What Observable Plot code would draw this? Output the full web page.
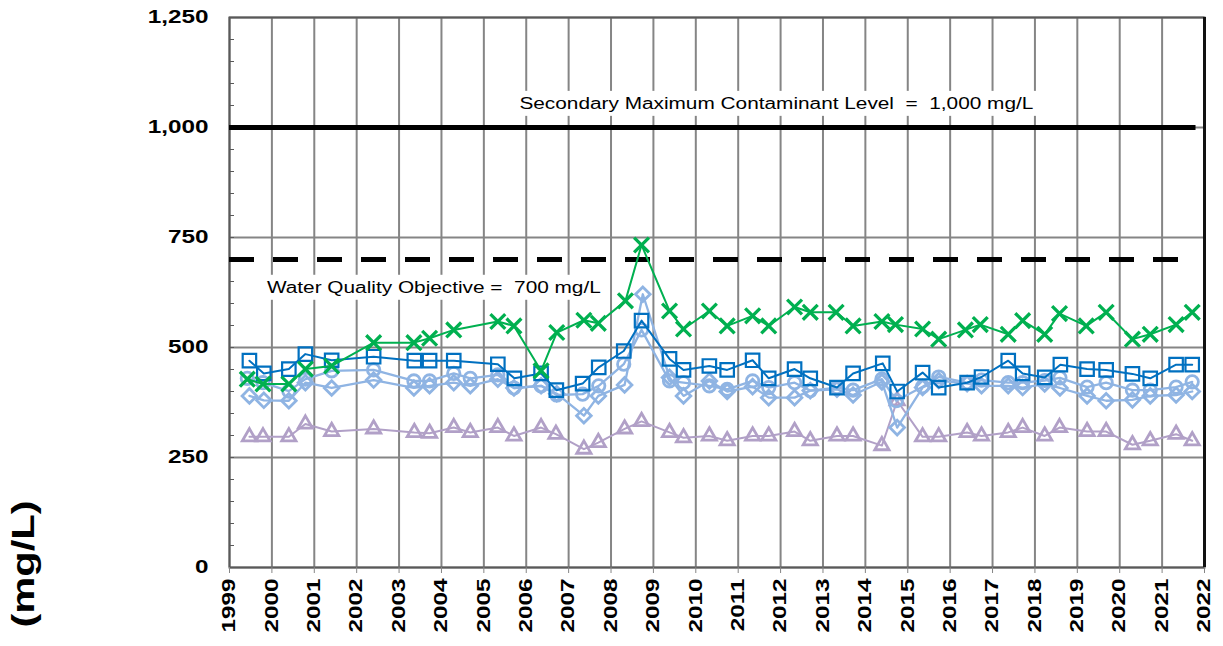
<!DOCTYPE html>
<html>
<head>
<meta charset="utf-8">
<script src="https://cdn.jsdelivr.net/npm/d3@7"></script>
<script src="https://cdn.jsdelivr.net/npm/@observablehq/plot@0.6"></script>
<style>
  html, body { margin: 0; padding: 0; background: #ffffff; }
  #chart svg { display: block; }
</style>
</head>
<body>
<div id="chart"></div>
<script>
// ---------- data ----------
const xDomain = [1999, 2022];
const yearTicks = d3.range(1999, 2023);
const yTicks = [0, 250, 500, 750, 1000, 1250];
const yMinorTicks = d3.range(0, 1251, 50);
const yTitle = "(mg/L)";

// regulatory limits
const limitValues = [1000, 700];
const limitStart = [1999, 1999];
const limitEnd = [2021.8, 2021.8];
const limitDash = [null, "25 19"];
const limitLabels = ["Secondary Maximum Contaminant Level  =  1,000 mg/L", "Water Quality Objective =  700 mg/L"];
const limitLabelX = [2011.9, 2003.82];
const limitLabelY = [1054, 636];

// series 1: green X
const s1Dates = [1999.42, 1999.79, 2000.40, 2000.79, 2001.41, 2002.40, 2003.35, 2003.72, 2004.29, 2005.33, 2005.71, 2006.35, 2006.72, 2007.36, 2007.70, 2008.34, 2008.72, 2009.38, 2009.71, 2010.32, 2010.74, 2011.34, 2011.72, 2012.33, 2012.70, 2013.31, 2013.71, 2014.39, 2014.71, 2015.35, 2015.73, 2016.36, 2016.71, 2017.37, 2017.71, 2018.23, 2018.58, 2019.21, 2019.68, 2020.30, 2020.72, 2021.33, 2021.71];
const s1Values = [428, 417, 417, 451, 458, 511, 511, 521, 540, 559, 549, 447, 534, 562, 555, 606, 733, 583, 542, 583, 549, 572, 549, 592, 580, 580, 549, 559, 552, 542, 519, 540, 552, 530, 561, 530, 577, 549, 580, 519, 530, 552, 580];

// series 2: dark blue squares
const s2Dates = [1999.47, 1999.81, 2000.40, 2000.79, 2001.41, 2002.40, 2003.36, 2003.72, 2004.29, 2005.33, 2005.72, 2006.35, 2006.71, 2007.33, 2007.71, 2008.30, 2008.72, 2009.38, 2009.71, 2010.32, 2010.74, 2011.34, 2011.72, 2012.33, 2012.70, 2013.33, 2013.71, 2014.41, 2014.75, 2015.35, 2015.73, 2016.40, 2016.74, 2017.37, 2017.71, 2018.23, 2018.60, 2019.23, 2019.68, 2020.30, 2020.72, 2021.33, 2021.71];
const s2Values = [470, 441, 451, 485, 471, 479, 470, 470, 470, 462, 430, 441, 403, 418, 455, 492, 561, 474, 449, 458, 449, 471, 430, 451, 430, 409, 441, 464, 400, 443, 409, 420, 433, 470, 441, 432, 461, 451, 449, 440, 430, 461, 461];

// series 3: light blue circles
const s3Dates = [1999.42, 1999.79, 2000.40, 2000.79, 2001.41, 2002.40, 2003.35, 2003.72, 2004.29, 2004.68, 2005.33, 2005.71, 2006.35, 2006.72, 2007.33, 2007.71, 2008.30, 2008.72, 2009.38, 2009.71, 2010.32, 2010.74, 2011.34, 2011.72, 2012.33, 2012.70, 2013.33, 2013.71, 2014.39, 2014.73, 2015.35, 2015.73, 2016.40, 2016.74, 2017.37, 2017.71, 2018.23, 2018.59, 2019.23, 2019.68, 2020.30, 2020.72, 2021.33, 2021.71];
const s3Values = [430, 420, 401, 428, 447, 449, 424, 424, 441, 430, 438, 408, 413, 392, 394, 413, 462, 540, 424, 420, 413, 405, 424, 409, 420, 402, 409, 403, 428, 379, 411, 433, 420, 426, 420, 420, 425, 431, 410, 420, 403, 403, 410, 422];

// series 4: light blue diamonds
const s4Dates = [1999.47, 1999.81, 2000.40, 2000.79, 2001.41, 2002.40, 2003.35, 2003.72, 2004.29, 2004.68, 2005.33, 2005.71, 2006.35, 2006.72, 2007.36, 2007.70, 2008.32, 2008.75, 2009.38, 2009.71, 2010.32, 2010.74, 2011.34, 2011.72, 2012.33, 2012.70, 2013.33, 2013.71, 2014.39, 2014.75, 2015.35, 2015.73, 2016.40, 2016.74, 2017.37, 2017.71, 2018.23, 2018.59, 2019.23, 2019.68, 2020.30, 2020.72, 2021.33, 2021.71];
const s4Values = [390, 380, 379, 420, 408, 426, 408, 413, 420, 413, 428, 408, 413, 395, 345, 390, 415, 621, 432, 390, 424, 400, 411, 386, 386, 402, 405, 392, 422, 318, 409, 425, 418, 413, 413, 409, 417, 408, 390, 379, 381, 390, 392, 400];

// series 5: purple triangles
const s5Dates = [1999.47, 1999.79, 2000.40, 2000.79, 2001.41, 2002.40, 2003.36, 2003.72, 2004.29, 2004.68, 2005.33, 2005.71, 2006.35, 2006.70, 2007.36, 2007.70, 2008.32, 2008.72, 2009.38, 2009.71, 2010.32, 2010.74, 2011.34, 2011.72, 2012.33, 2012.70, 2013.33, 2013.71, 2014.39, 2014.75, 2015.35, 2015.73, 2016.40, 2016.74, 2017.37, 2017.71, 2018.23, 2018.58, 2019.23, 2019.68, 2020.30, 2020.72, 2021.33, 2021.71];
const s5Values = [297, 297, 297, 326, 309, 315, 307, 305, 318, 307, 318, 299, 318, 303, 269, 284, 315, 332, 307, 295, 299, 288, 299, 299, 309, 288, 299, 299, 277, 379, 297, 297, 307, 299, 307, 318, 299, 318, 309, 309, 279, 288, 303, 288];

// ---------- build tables ----------
const toRows = (dates, values) => dates.map((d, i) => ({date: d, value: values[i]}));
const seriesDefs = [
  {rows: toRows(s5Dates, s5Values), color: "#b1a0c7", symbol: "triangle2", r: 6.8, lineWidth: 2, markWidth: 2.8},
  {rows: toRows(s4Dates, s4Values), color: "#8fb4e3", symbol: "diamond2", r: 6.6, lineWidth: 2.3, markWidth: 2.8},
  {rows: toRows(s3Dates, s3Values), color: "#8fb4e3", symbol: "circle", r: 6.2, lineWidth: 2.3, markWidth: 2.8},
  {rows: toRows(s2Dates, s2Values), color: "#0070c0", symbol: "square", r: 7.6, lineWidth: 2, markWidth: 2.2},
  {rows: toRows(s1Dates, s1Values), color: "#00b050", symbol: "times", r: 6.8, lineWidth: 2, markWidth: 3.3}
];
const limits = limitValues.map((v, i) => ({value: v, x1: limitStart[i], x2: limitEnd[i], dash: limitDash[i]}));
const limitText = limitLabels.map((t, i) => ({text: t, x: limitLabelX[i], y: limitLabelY[i]}));

const FONT = "'Liberation Sans', Arial, sans-serif";

const marks = [
  Plot.gridX(yearTicks, {stroke: "#858585", strokeOpacity: 1, strokeWidth: 2}),
  Plot.gridY(yTicks, {stroke: "#858585", strokeOpacity: 1, strokeWidth: 2}),
  Plot.frame({stroke: "#595959", strokeWidth: 2}),
  Plot.ruleX([xDomain[1]], {stroke: "#111", strokeWidth: 3}),
  Plot.axisY({ticks: yMinorTicks, tickSize: -5, tickFormat: () => "", label: null, stroke: "#595959"}),
  Plot.axisY({ticks: yTicks, tickSize: 0, tickPadding: 21, tickFormat: d3.format(","), label: null,
              fontSize: 18, fontWeight: "bold", fill: "#000"}),
  Plot.axisX({ticks: yearTicks, tickFormat: d => String(d), tickSize: 6, tickPadding: 5, tickRotate: -90, label: null,
              fontSize: 18, fontWeight: "bold", fill: "#000", stroke: "#858585"}),
  Plot.ruleY(limits.filter(d => !d.dash), {y: "value", x1: "x1", x2: "x2", stroke: "#000", strokeWidth: 5}),
  Plot.ruleY(limits.filter(d => d.dash), {y: "value", x1: "x1", x2: "x2", stroke: "#000", strokeWidth: 5, strokeDasharray: "25 19"}),
  Plot.text(limitText, {x: "x", y: "y", text: "text", fontSize: 16, fontWeight: "normal", fill: "#000", fontFamily: FONT}),
  Plot.text([yTitle], {frameAnchor: "left", dx: -206, dy: 208, rotate: -90, textAnchor: "end",
                       fontSize: 32, fontWeight: "bold", fill: "#000", fontFamily: FONT})
];
for (const s of seriesDefs) {
  marks.push(Plot.line(s.rows, {x: "date", y: "value", stroke: s.color, strokeWidth: s.lineWidth}));
  marks.push(Plot.dot(s.rows, {x: "date", y: "value", symbol: s.symbol, r: s.r, stroke: s.color, fill: "none", strokeWidth: s.markWidth}));
}

const chart = Plot.plot({
  width: 1223,
  height: 646,
  marginTop: 17,
  marginBottom: 79,
  marginLeft: 229,
  marginRight: 19,
  style: {fontFamily: FONT, background: "#fff", overflow: "visible"},
  x: {domain: xDomain, axis: null},
  y: {domain: [0, 1250], axis: null},
  marks
});
document.getElementById("chart").append(chart);

// stretch tick labels / text along reading direction (the reference font is wide)
function stretch(nodes, factor) {
  nodes.forEach(t => {
    const len = t.getComputedTextLength();
    if (len > 0) {
      t.setAttribute("textLength", (len * factor).toFixed(1));
      t.setAttribute("lengthAdjust", "spacingAndGlyphs");
    }
  });
}
const tickTexts = chart.querySelectorAll("g[aria-label$='tick label'] text");
stretch(tickTexts, 1.35);
const allText = Array.from(chart.querySelectorAll("g[aria-label='text'] text"));
stretch(allText, 1.3);

// white box behind limit labels
allText.forEach(t => {
  if (!limitLabels.includes(t.textContent)) return;
  const b = t.getBBox();
  const rect = document.createElementNS("http://www.w3.org/2000/svg", "rect");
  rect.setAttribute("x", b.x - 8);
  rect.setAttribute("y", b.y - 4);
  rect.setAttribute("width", b.width + 16);
  rect.setAttribute("height", b.height + 8);
  rect.setAttribute("fill", "#fff");
  if (t.getAttribute("transform")) rect.setAttribute("transform", t.getAttribute("transform"));
  t.parentNode.insertBefore(rect, t);
});
</script>
</body>
</html>
